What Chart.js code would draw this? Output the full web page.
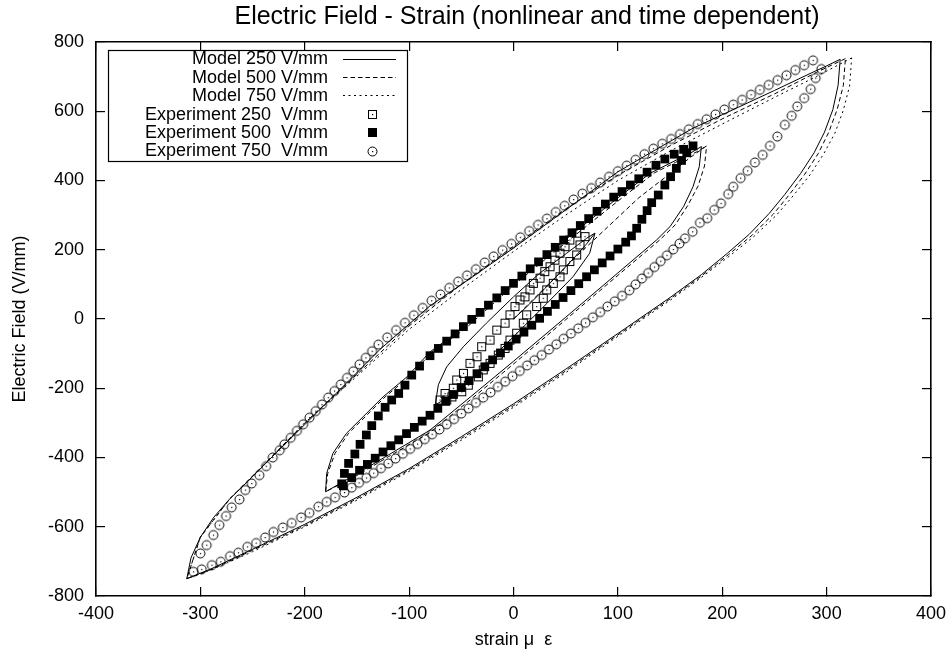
<!DOCTYPE html>
<html>
<head>
<meta charset="utf-8">
<script src="https://cdn.jsdelivr.net/npm/chart.js@4.4.1/dist/chart.umd.min.js"></script>
<style>
html,body{margin:0;padding:0;background:#fff;}
#wrap{width:951px;height:660px;position:relative;}
</style>
</head>
<body>
<div id="wrap"><canvas id="c" width="951" height="660"></canvas></div>
<script>
// ---------- DATA ----------
const chartTitle = "Electric Field - Strain (nonlinear and time dependent)";
const xAxisTitle = "strain \u03BC  \u03B5";
const yAxisTitle = "Electric Field (V/mm)";
const xTickValues = [-400,-300,-200,-100,0,100,200,300,400];
const yTickValues = [-800,-600,-400,-200,0,200,400,600,800];
const seriesLabels = ["Model 250 V/mm","Model 500 V/mm","Model 750 V/mm",
  "Experiment 250  V/mm","Experiment 500  V/mm","Experiment 750  V/mm"];

// Model 250 V/mm (solid) : inner loop with initial curve, middle loop, outer loop (null = break)
const model250 = [
  [0,0],[15,42],[30,88],[45,135],[60,183],[70,217],[78,248],
  [70,233],[51,190],[25,132],[0,64],[-26,-12],[-48,-80],[-64,-138],[-72,-190],[-75,-248],
  [-60,-222],[-48,-196],[-25,-125],[0,-51],[32,45],[57,122],[73,190],[78,248],
  null,
  [180,498],[170,480],[150,450],[131,421],[100,350],[50,230],[0,105],[-50,-30],[-80,-95],[-102,-167],[-125,-225],[-144,-282],[-160,-330],[-173,-388],[-179,-446],[-180,-499],
  [-150,-447],[-120,-393],[-80,-321],[-40,-222],[0,-122],[50,5],[100,133],[137,228],[150,267],[163,325],[172,382],[178,440],[180,498],
  null,
  [313,750],[300,731],[287,713],[250,660],[200,590],[172,551],[130,478],[100,425],[50,315],[0,205],[-40,120],[-80,38],[-128,-88],[-160,-185],[-200,-305],[-227,-385],[-240,-425],[-255,-470],[-272,-520],[-287,-572],[-300,-630],[-309,-690],[-313,-750],
  [-290,-722],[-250,-665],[-200,-593],[-150,-515],[-100,-432],[-50,-340],[0,-245],[50,-145],[100,-42],[150,62],[180,128],[205,190],[226,245],[245,305],[260,360],[275,420],[288,480],[298,540],[306,605],[311,675],[313,750]
];
// Model 500 V/mm (dashed)
const model500 = [
  [0,0],[30,90],[60,180],[90,265],[120,350],[150,420],[170,468],[185,500],
  [175,482],[155,452],[135,422],[104,350],[54,230],[3,105],[-47,-30],[-78,-95],[-100,-167],[-123,-225],[-142,-282],[-158,-330],[-171,-388],[-178,-446],[-180,-499],
  [-150,-452],[-120,-398],[-80,-328],[-40,-230],[0,-130],[50,-2],[100,126],[140,228],[155,272],[167,328],[177,385],[183,442],[185,500],
  null,
  [318,752],[290,712],[250,650],[200,578],[150,500],[100,415],[50,318],[0,210],[-50,100],[-100,-20],[-150,-160],[-200,-300],[-240,-423],[-272,-520],[-300,-630],[-313,-750],
  [-290,-724],[-250,-668],[-200,-597],[-150,-519],[-100,-436],[-50,-345],[0,-250],[50,-150],[100,-46],[150,58],[180,124],[206,186],[229,243],[249,303],[264,358],[279,418],[292,478],[302,539],[310,604],[316,674],[318,752]
];
// Model 750 V/mm (dotted)
const model750 = [
  [324,754],[290,700],[250,640],[200,563],[150,485],[100,400],[50,300],[0,195],[-50,85],[-100,-30],[-150,-165],[-200,-300],[-240,-425],[-272,-520],[-300,-630],[-313,-750],
  [-290,-725],[-250,-672],[-200,-600],[-150,-523],[-100,-440],[-50,-350],[0,-255],[50,-155],[100,-50],[150,54],[180,120],[207,182],[231,240],[252,300],[268,356],[284,416],[297,476],[308,537],[316,603],[322,673],[324,754]
];
// Experiment 250 V/mm (open squares)
const exp250 = [
  [60.5,248],[54,228],[49.3,209],[44.5,190],[39.7,170],[35,151],[30,137],[25.4,118],[19,103],[15.8,84],[11,64],[6.2,55],[1.4,36],[-3.4,12],[-8.1,-12],[-16,-32],[-22.5,-61],[-30.5,-80],[-35,-109],[-41.7,-128],[-48,-157],[-54.4,-176],[-57.7,-200],[-65.6,-215],[-70.4,-234],
  [-64,-234],[-59,-225],[-49.6,-210],[-43.3,-191],[-33.7,-167],[-29,-147],[-22.5,-128],[-14.6,-104],[-8.1,-85],[-3.4,-61],[3,-41],[9.4,-12],[12.6,12],[22.2,36],[28.5,60],[31.8,84],[38.1,103],[44.5,122],[47.7,142],[54,166],[60.5,185],[63.7,214],[68.5,238]
];
// Experiment 500 V/mm (filled squares)
const exp500 = [
  [172,500],[163,490],[154,476],[145,462],[136.5,444],[128,424],[120,405],[112,387],[104,368],[96,352],[88,332],[80,311],[72,290],[64,270],[56,249],[48,228],[40,207],[32,186],[24,165],[16,145],[8,124],[0,103],[-8,82],[-16,61],[-24,40],[-32,19],[-40,-1],[-48,-22],[-56,-43],[-64,-64],[-72,-85],[-80,-106],[-90,-136],[-97.5,-162],[-104,-191],[-110,-215],[-116.7,-234],[-123,-255],[-129.5,-280],[-135.8,-308],[-141,-335],[-147,-362],[-152,-390],[-158,-417],[-162,-446],[-164.6,-476],
  [-163,-482],[-155,-458],[-147.5,-437],[-140,-420],[-132.5,-402],[-125,-384],[-117.5,-366],[-110,-349],[-102.5,-331],[-95,-313],[-87.5,-295],[-80,-278],[-72.5,-258],[-65,-238],[-57.5,-218],[-50,-198],[-42.5,-178],[-35,-158],[-27.5,-138],[-20,-118],[-12.5,-98],[-5,-78],[2.5,-58],[10,-38],[17.5,-18],[25,2],[32.5,22],[40,42],[47.5,62],[55,82],[62.5,102],[70,122],[77.5,142],[85,162],[92.5,182],[100,202],[107.5,222],[113,240],[118,262],[123,288],[128,313],[132.4,336],[138.7,358],[145,387],[150.5,411],[156,435],[161,458],[166,480]
];
// Experiment 750 V/mm (circles)
const exp750 = [
  [287,747],[278.5,733],[270,719],[261.5,704],[253,690],[244.5,676],[236,662],[227.5,648],[219,633],[210.5,619],[202,605],[193.5,591],[185,577],[176.5,563],[168,548],[159.5,534],[151,520],[142.5,506],[134,492],[125.5,476],[117,460],[108.5,443],[100,427],[91.5,411],[83,394],[74.5,378],[66,362],[57.5,345],[49,327],[40.5,309],[32,290],[23.5,272],[15,254],[6.5,236],[-2,217],[-10.5,199],[-19,181],[-27.5,163],[-36,144],[-44.5,126],[-53,108],[-61.5,90],[-70,71],[-78.5,53],[-87,32],[-95.5,11],[-104,-11],[-112.5,-32],[-121,-53],[-129.5,-74],[-135.5,-93],[-141.5,-112],[-147.5,-131],[-153.5,-151],[-159.5,-170],[-165.5,-189],[-171.5,-208],[-177.5,-227],[-183.5,-247],[-189.5,-266],[-195.5,-285],[-201.5,-304],[-207.5,-323],[-213.5,-343],[-219.5,-362],[-224,-379],[-230.7,-400],[-237,-425],[-243.5,-451],[-250.8,-475],[-257,-494],[-262.6,-521],[-270,-544],[-275.4,-569],[-281.8,-595],[-287.6,-624],[-294,-653],[-300,-677],
  [-306.7,-730],[-298.7,-723],[-289,-711],[-280.5,-701],[-271.6,-685],[-263.6,-675],[-255,-658],[-246.6,-647],[-238,-631],[-230,-615],[-221,-602],[-212.5,-589],[-203.5,-573],[-195.6,-560],[-187,-542],[-179,-528],[-171,-515],[-162,-501],[-155,-487],[-148,-473],[-141,-459],[-134,-445],[-127,-431],[-120,-417],[-113,-403],[-106,-389],[-99,-375],[-92,-361],[-85,-347],[-78,-333],[-71,-319],[-64,-304],[-57,-289],[-50,-273],[-43,-258],[-36,-242],[-29,-227],[-22,-212],[-15,-196],[-8,-181],[-1,-165],[6,-150],[13,-134],[20,-119],[27,-104],[34,-88],[41,-73],[48,-57],[55,-42],[62,-27],[69,-11],[76,5],[83,20],[90,36],[97,51],[104,67],[111,83],[117,100],[123,117],[129,133],[135,150],[141,167],[147,184],[153,201],[159,218],[164.3,233],[171.6,252],[178.6,278],[185.6,291],[192.3,315],[198.8,334],[205.7,361],[210.5,382],[217.6,407],[224.3,428],[231.3,452],[238.7,474],[245.7,500],[252.7,527],[260,561],[266.5,587],[271.8,614],[278.5,638],[284.7,664],[289.5,696],[295,722]
];

// ---------- helpers ----------
const FONT = "'Liberation Sans', Arial, Helvetica, sans-serif";
function toPts(arr){ return arr.map(p => p ? {x:p[0], y:p[1]} : {x:null, y:null}); }

function markerCanvas(kind){
  const s = 13, c = document.createElement('canvas');
  c.width = s; c.height = s;
  const g = c.getContext('2d');
  g.strokeStyle = '#000'; g.fillStyle = '#000'; g.lineWidth = 1;
  if (kind === 'sq') {
    g.strokeRect(2.5, 2.5, 8, 8);
  } else {
    g.beginPath(); g.arc(6.5, 6.5, 4.5, 0, Math.PI*2); g.stroke();
  }
  g.fillRect(6, 6, 1.2, 1.2);
  return c;
}
const mkSq = markerCanvas('sq');
const mkCi = markerCanvas('ci');

const lineStyles = [[], [4.5,3], [2,3.5]];

const titleAndLegend = {
  id: 'titleAndLegend',
  afterDraw(chart){
    const ctx = chart.ctx;
    ctx.save();
    ctx.setLineDash([]);
    // title
    ctx.fillStyle = '#000';
    ctx.font = "25px " + FONT;
    ctx.textAlign = 'center'; ctx.textBaseline = 'middle';
    ctx.fillText(chartTitle, 527, 17);

    // legend (gnuplot style, inside plot, top-left)
    const lx = 108, ly = 50, lw = 299, lh = 111;
    ctx.fillStyle = '#fff';
    ctx.fillRect(lx, ly, lw, lh);
    ctx.lineWidth = 1.2; ctx.strokeStyle = '#000';
    ctx.strokeRect(lx + 0.5, ly + 0.5, lw, lh);
    ctx.font = "18px " + FONT;
    ctx.textAlign = 'right'; ctx.textBaseline = 'middle';
    chart.data.datasets.forEach((ds, i) => {
      const yy = 58.5 + i * 18.4;
      ctx.fillStyle = '#000';
      ctx.fillText(ds.label, 328, yy + 1);
      if (i < 3) {
        ctx.save();
        ctx.lineWidth = 1; ctx.setLineDash(lineStyles[i]);
        ctx.beginPath(); ctx.moveTo(343, Math.round(yy) + 0.5); ctx.lineTo(396, Math.round(yy) + 0.5); ctx.stroke();
        ctx.restore();
      } else if (i === 4) {
        ctx.fillRect(368, Math.round(yy) - 4, 9, 9);
      } else {
        ctx.drawImage(i === 3 ? mkSq : mkCi, 366, Math.round(yy) - 6);
      }
    });
    ctx.restore();
  }
};

const modelDs = (label, arr, dash) => ({
  label, data: toPts(arr), showLine: true, spanGaps: false, pointRadius: 0, pointHoverRadius: 0,
  borderColor: '#000', borderWidth: 1, borderDash: dash, tension: 0, fill: false, order: 2
});
const expDs = (label, arr, style, extra) => Object.assign({
  label, data: toPts(arr), showLine: false, pointStyle: style, pointRadius: 6.4, order: 1,
  borderColor: '#000', backgroundColor: '#000', borderWidth: 0
}, extra || {});

// inward tick marks: negative tick length on every side
const tickGrid = { display: true, drawOnChartArea: false, drawTicks: true, tickLength: -9, color: '#000', lineWidth: 1.2 };
const frameBorder = { display: true, color: '#000', width: 1.6 };
const tickFont = { family: FONT, size: 18 };
const fitH = h => s => { s.height = h; s.paddingLeft = 0; s.paddingRight = 0; };
const fitW = w => s => { s.width = w; s.paddingTop = 0; s.paddingBottom = 0; };

new Chart(document.getElementById('c'), {
  type: 'scatter',
  data: {
    datasets: [
      modelDs(seriesLabels[0], model250, lineStyles[0]),
      modelDs(seriesLabels[1], model500, lineStyles[1]),
      modelDs(seriesLabels[2], model750, lineStyles[2]),
      expDs(seriesLabels[3], exp250, mkSq),
      expDs(seriesLabels[4], exp500, 'rect', {pointRadius: 6.2}),
      expDs(seriesLabels[5], exp750, mkCi)
    ]
  },
  options: {
    responsive: false, animation: false, devicePixelRatio: 1,
    layout: { padding: { left: 0, right: 20, top: 42, bottom: 0 } },
    plugins: { legend: { display: false }, title: { display: false }, tooltip: { enabled: false } },
    scales: {
      x: {
        type: 'linear', position: 'bottom', min: -400, max: 400,
        afterBuildTicks: s => { s.ticks = xTickValues.map(v => ({value: v})); },
        ticks: { color: '#000', font: tickFont, padding: 16, maxRotation: 0, autoSkip: false },
        grid: tickGrid, border: frameBorder,
        title: { display: true, text: xAxisTitle, color: '#000', font: tickFont, padding: { top: 0, bottom: 9 } },
        afterFit: fitH(64)
      },
      x2: {
        type: 'linear', axis: 'x', position: 'top', min: -400, max: 400,
        afterBuildTicks: s => { s.ticks = xTickValues.map(v => ({value: v})); },
        ticks: { display: false }, grid: tickGrid, border: frameBorder,
        afterFit: fitH(0)
      },
      y: {
        type: 'linear', position: 'left', min: -800, max: 800,
        afterBuildTicks: s => { s.ticks = yTickValues.map(v => ({value: v})); },
        ticks: { color: '#000', font: tickFont, padding: 21, autoSkip: false },
        grid: tickGrid, border: frameBorder,
        title: { display: true, text: yAxisTitle, color: '#000', font: tickFont, padding: { top: 9, bottom: 0 } },
        afterFit: fitW(96)
      },
      y2: {
        type: 'linear', axis: 'y', position: 'right', min: -800, max: 800,
        afterBuildTicks: s => { s.ticks = yTickValues.map(v => ({value: v})); },
        ticks: { display: false }, grid: tickGrid, border: frameBorder,
        afterFit: fitW(0)
      }
    }
  },
  plugins: [titleAndLegend]
});
</script>
</body>
</html>
